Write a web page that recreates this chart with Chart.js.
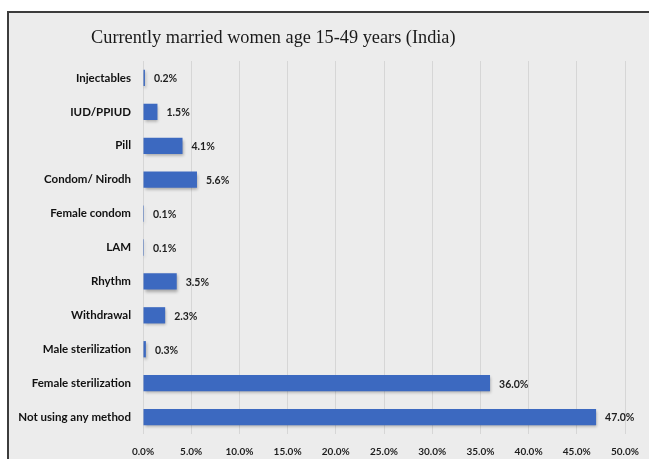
<!DOCTYPE html>
<html>
<head>
<meta charset="utf-8">
<script src="https://cdn.jsdelivr.net/npm/chart.js@4/dist/chart.umd.min.js"></script>
<style>
  html, body { margin: 0; padding: 0; background: #ffffff; }
  #panel {
    position: absolute; left: 7px; top: 11px; width: 642px; height: 448px;
    border-top: 2px solid #3c3c3c; border-left: 2px solid #3c3c3c;
    background: #ececec;
  }
  #wrap { position: absolute; left: 0; top: 0; width: 640px; height: 446px; }
</style>
</head>
<body>
<div id="panel"><div id="wrap"><canvas id="c" width="640" height="446"></canvas></div></div>
<script>
const chartTitle = "Currently married women age 15-49 years (India)";
const categories = [
  "Injectables", "IUD/PPIUD", "Pill", "Condom/ Nirodh", "Female condom", "LAM",
  "Rhythm", "Withdrawal", "Male sterilization", "Female sterilization", "Not using any method"
];
const values = [0.2, 1.5, 4.1, 5.6, 0.1, 0.1, 3.5, 2.3, 0.3, 36.0, 47.0];
const axisMax = 50;
const axisStep = 5;

const barShadowAndLabels = {
  id: 'barShadowAndLabels',
  beforeDatasetsDraw(chart) {
    const ctx = chart.ctx;
    ctx.save();
    ctx.shadowColor = 'rgba(0,0,0,0.30)';
    ctx.shadowBlur = 3;
    ctx.shadowOffsetX = 1;
    ctx.shadowOffsetY = 2;
  },
  afterDatasetsDraw(chart) {
    const ctx = chart.ctx;
    ctx.restore();
    const meta = chart.getDatasetMeta(0);
    ctx.save();
    ctx.font = "bold 10.5px Lato";
    ctx.fillStyle = "#1e1e1e";
    ctx.textAlign = "left";
    ctx.textBaseline = "middle";
    meta.data.forEach((bar, i) => {
      ctx.fillText(values[i].toFixed(1) + "%", bar.x + 9, bar.y + 1);
    });
    ctx.restore();
  }
};

const titlePlugin = {
  id: 'offsetTitle',
  afterDraw(chart) {
    const ctx = chart.ctx;
    ctx.save();
    ctx.font = "18.3px 'Liberation Serif'";
    ctx.fillStyle = "#1a1a1a";
    ctx.textAlign = "center";
    ctx.textBaseline = "middle";
    ctx.fillText(chartTitle, chart.width * 0.413, 25);
    ctx.restore();
  }
};

new Chart(document.getElementById('c'), {
  type: 'bar',
  data: {
    labels: categories,
    datasets: [{
      data: values,
      backgroundColor: '#3c69c0',
      borderWidth: 0,
      categoryPercentage: 1.0,
      barPercentage: 0.48
    }]
  },
  options: {
    indexAxis: 'y',
    responsive: false,
    animation: false,
    layout: { padding: { top: 48, left: 6, right: 24, bottom: 3 } },
    plugins: {
      legend: { display: false },
      title: { display: false },
      tooltip: { enabled: false }
    },
    scales: {
      x: {
        min: 0, max: axisMax,
        ticks: {
          stepSize: axisStep,
          padding: 12,
          color: '#1e1e1e',
          font: { family: 'Lato', size: 10, weight: 'bold' },
          callback: v => v.toFixed(1) + '%'
        },
        grid: { color: '#d6d6d6', drawTicks: false, tickLength: 0 },
        border: { display: false },
        afterFit(scale) { scale.height = 22; scale.paddingRight = 0; scale.paddingLeft = 0; }
      },
      y: {
        ticks: {
          padding: 12,
          color: '#111111',
          font: { family: 'Lato', size: 11.5, weight: 'bold' }
        },
        grid: { display: false, drawTicks: false, tickLength: 0 },
        border: { display: false },
        afterFit(scale) { scale.width = 128; }
      }
    }
  },
  plugins: [barShadowAndLabels, titlePlugin]
});
</script>
</body>
</html>
